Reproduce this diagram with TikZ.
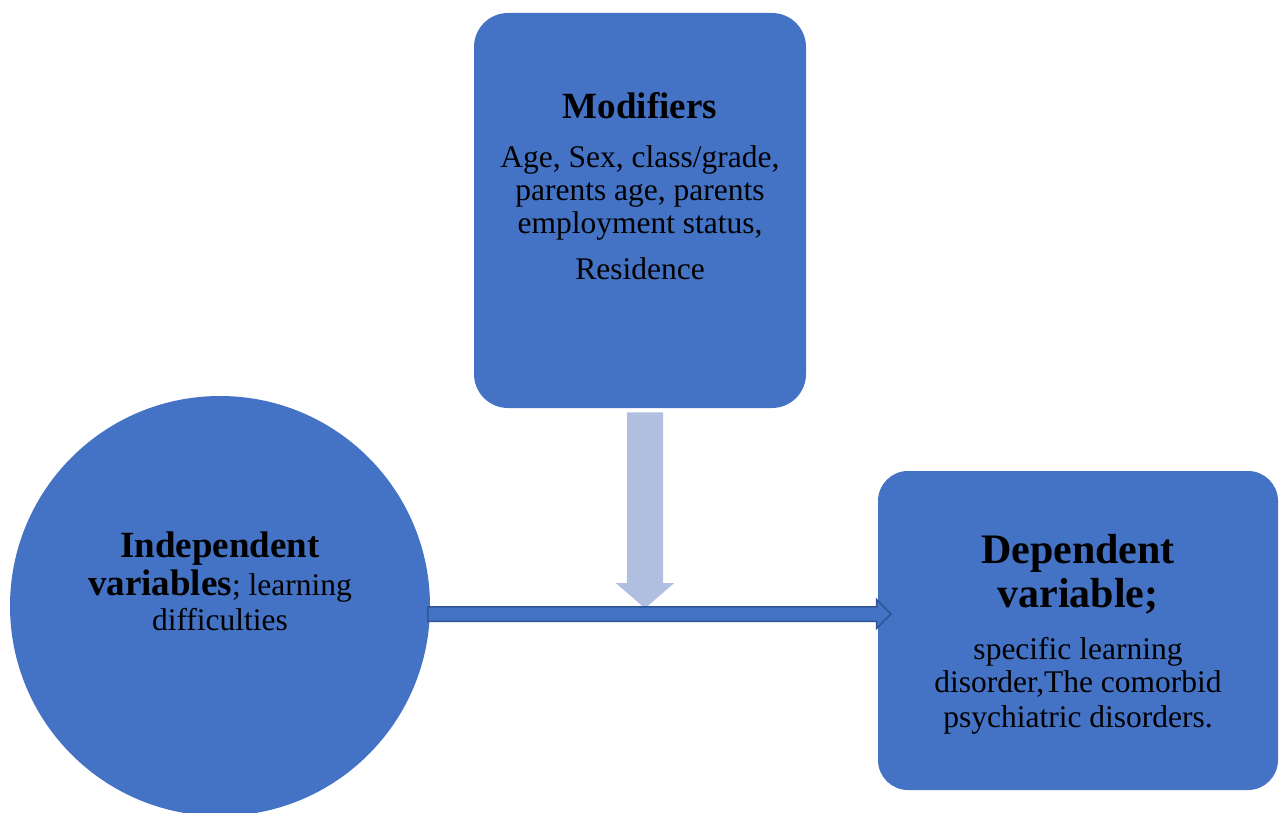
\documentclass[tikz,border=0pt]{standalone}
\usepackage{fontspec}
\setmainfont{Liberation Serif}
\usetikzlibrary{shapes.arrows}
\definecolor{boxblue}{HTML}{4472C4}
\definecolor{edgeblue}{HTML}{2F5597}
\definecolor{paleblue}{HTML}{B0BEE0}
\newcommand{\hd}[1]{{\fontsize{37}{33}\selectfont\bfseries #1}}
\newcommand{\hdd}[1]{{\fontsize{42}{33}\selectfont\bfseries #1}}
\newcommand{\bodyfont}{\fontsize{31.5}{33}\selectfont\lineskiplimit-100pt\relax}
\tikzset{
  varbox/.style={fill=boxblue,rounded corners=#1,inner sep=0pt},
  vartext/.style={align=center,inner sep=0pt,anchor=north,font=\bodyfont},
  bararrow/.style={single arrow,draw=edgeblue,fill=boxblue,line width=1.5pt,
    inner xsep=0pt,inner ysep=6.5pt,single arrow head extend=7pt,anchor=tail},
  downarrow/.style={single arrow,fill=paleblue,inner xsep=0pt,inner ysep=18pt,
    single arrow head extend=11pt,single arrow tip angle=98,rotate=-90,anchor=tail}
}
\begin{document}
\begin{tikzpicture}[x=1pt,y=-1pt]
		\useasboundingbox (0,0) rectangle (1280,813);
		\node[varbox=34pt,minimum width=332pt,minimum height=395pt] (mod) at (640,210.5) {};
		\node[circle,fill=boxblue,minimum size=420pt,inner sep=0pt] (indep) at (220,606) {};
		\node[varbox=30pt,minimum width=400pt,minimum height=319pt] (dep) at (1078,630.5) {};
		\coordinate (vstart) at ([shift={(5,4)}]mod.south);
		\coordinate (hstart) at ([shift={(-3,8)}]indep.east);
		\node[downarrow,minimum height=196pt] (modlink) at (vstart) {};
		\node[bararrow,minimum height=463pt] (link) at (hstart) {};
		\node[vartext] (modtxt) at (640,92) {\hd{Modifiers}\\[16pt] Age, Sex, class/grade,\\ parents age, parents\\ employment status,\\[13pt] Residence};
		\node[vartext] (indeptxt) at (220,532) {\hd{Independent}\\[5pt] \hd{variables}; learning\\[2pt] difficulties};
		\node[vartext] (deptxt) at (1078,534) {\hdd{Dependent}\\[11pt] \hdd{variable;}\\[19pt] specific learning\\ disorder,The comorbid\\[2pt] psychiatric disorders.};
\end{tikzpicture}
\end{document}
